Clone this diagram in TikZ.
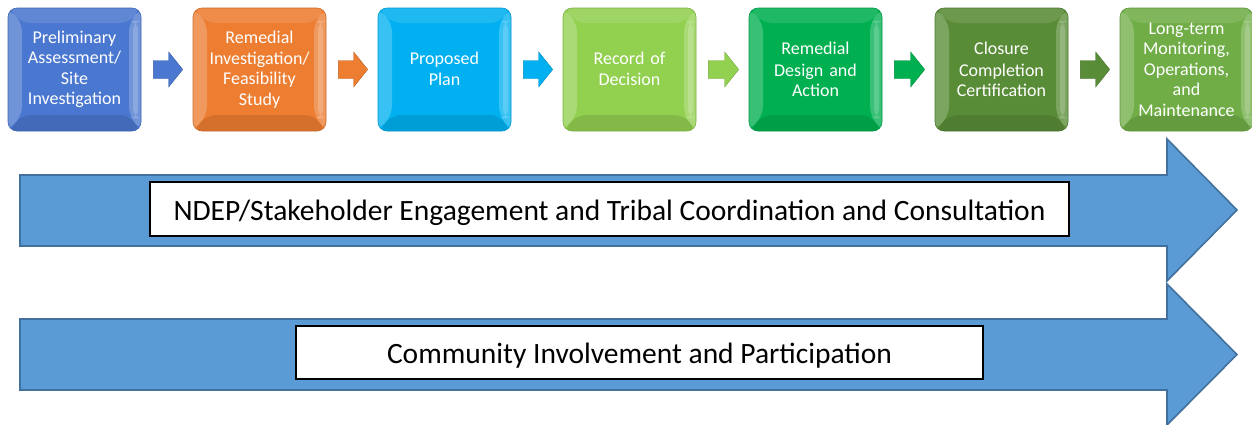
\documentclass[tikz,border=0pt]{standalone}
\usepackage{fontspec}
\setmainfont{Carlito}
\usetikzlibrary{calc}
\definecolor{cA}{HTML}{4A77CF}
\definecolor{cB}{HTML}{ED7D31}
\definecolor{cC}{HTML}{00B0F0}
\definecolor{cD}{HTML}{92D050}
\definecolor{cE}{HTML}{00B050}
\definecolor{cF}{HTML}{598C37}
\definecolor{cG}{HTML}{70AD47}
\definecolor{bandfill}{HTML}{5B9BD5}
\definecolor{banddraw}{HTML}{41719C}
\tikzset{
  stage/.style={rounded corners=9pt, minimum width=133pt, minimum height=123pt,
    text width=131pt, align=center, text=white, inner sep=0pt,
    font=\fontsize{18}{20.5}\selectfont, fill=#1, draw=#1!85!black, line width=0.6pt,
    path picture={
      \path (path picture bounding box.north west) coordinate (pnw)
            (path picture bounding box.north east) coordinate (pne)
            (path picture bounding box.south west) coordinate (psw)
            (path picture bounding box.south east) coordinate (pse);
      \fill[white,opacity=.12] (pnw) -- (pne) -- ([shift={(-12pt,-15pt)}]pne) -- ([shift={(14pt,-15pt)}]pnw) -- cycle;
      \fill[white,opacity=.22] (pnw) -- ([shift={(14pt,-15pt)}]pnw) -- ([shift={(14pt,16pt)}]psw) -- (psw) -- cycle;
      \fill[white,opacity=.22] (pne) -- ([shift={(-12pt,-15pt)}]pne) -- ([shift={(-12pt,16pt)}]pse) -- (pse) -- cycle;
      \fill[white,opacity=.18] ([shift={(-8pt,-13pt)}]pne) rectangle ([shift={(-3pt,13pt)}]pse);
      \fill[black,opacity=.10] (psw) -- ([shift={(14pt,16pt)}]psw) -- ([shift={(-12pt,16pt)}]pse) -- (pse) -- cycle;
    }},
  band/.style={draw=black, line width=1.2pt, fill=white, inner sep=0pt,
    font=\fontsize{29.5}{33}\selectfont, text=black, text height=24pt, text depth=2pt},
  bigarrow/.style={fill=bandfill, draw=banddraw, line width=1.6pt, line join=miter},
}
\newcommand\blockarrow[3]{%
  \path let \p1=($(#1.east)+(12pt,0)$), \p2=($(#2.west)+(-10pt,0)$) in
    [fill=#3, draw=#3!80!black, line width=0.4pt]
    (\x1,\y1-9pt) -- (\x2-14pt,\y1-9pt) -- (\x2-14pt,\y1-17.5pt) -- (\x2,\y1)
    -- (\x2-14pt,\y1+17.5pt) -- (\x2-14pt,\y1+9pt) -- (\x1,\y1+9pt) -- cycle;}
\begin{document}
\begin{tikzpicture}[x=1pt,y=-1pt]
\useasboundingbox (0,0) rectangle (1252,424);
% big arrows
\draw[bigarrow] (20,175) -- (1167,175) -- (1167,139) -- (1237,210) -- (1167,281) -- (1167,246) -- (20,246) -- cycle;
\draw[bigarrow] (20,319) -- (1167,319) -- (1167,284) -- (1237,354.5) -- (1167,425) -- (1167,390) -- (20,390) -- cycle;
\node[band, minimum width=919pt, minimum height=54pt] (ndep) at (609.5,209)
  {NDEP/Stakeholder Engagement and Tribal Coordination and Consultation};
\node[band, minimum width=687pt, minimum height=53pt] (comm) at (639.5,352.5)
  {Community Involvement and Participation};
% stages
\node[stage=cA] (s1) at (74.5,69.5) {Preliminary\\Assessment/\\Site\\Investigation};
\node[stage=cB] (s2) at (259.5,69.5) {Remedial\\Investigation/\\Feasibility\\Study};
\node[stage=cC] (s3) at (444.5,69.5) {\raisebox{1.5pt}{Proposed}\\\raisebox{1.5pt}{Plan}};
\node[stage=cD] (s4) at (629.5,69.5) {\raisebox{1.5pt}{Record of}\\\raisebox{1.5pt}{Decision}};
\node[stage=cE] (s5) at (815.5,69.5) {\raisebox{1.5pt}{Remedial}\\Design and\\Action};
\node[stage=cF] (s6) at (1001.5,69.5) {\raisebox{1.5pt}{Closure}\\Completion\\Certification};
\node[stage=cG] (s7) at (1186.5,69.5) {Long-term\\Monitoring,\\Operations,\\and\\Maintenance};
% small arrows
\blockarrow{s1}{s2}{cA}
\blockarrow{s2}{s3}{cB}
\blockarrow{s3}{s4}{cC}
\blockarrow{s4}{s5}{cD}
\blockarrow{s5}{s6}{cE}
\blockarrow{s6}{s7}{cF}
\end{tikzpicture}
\end{document}
